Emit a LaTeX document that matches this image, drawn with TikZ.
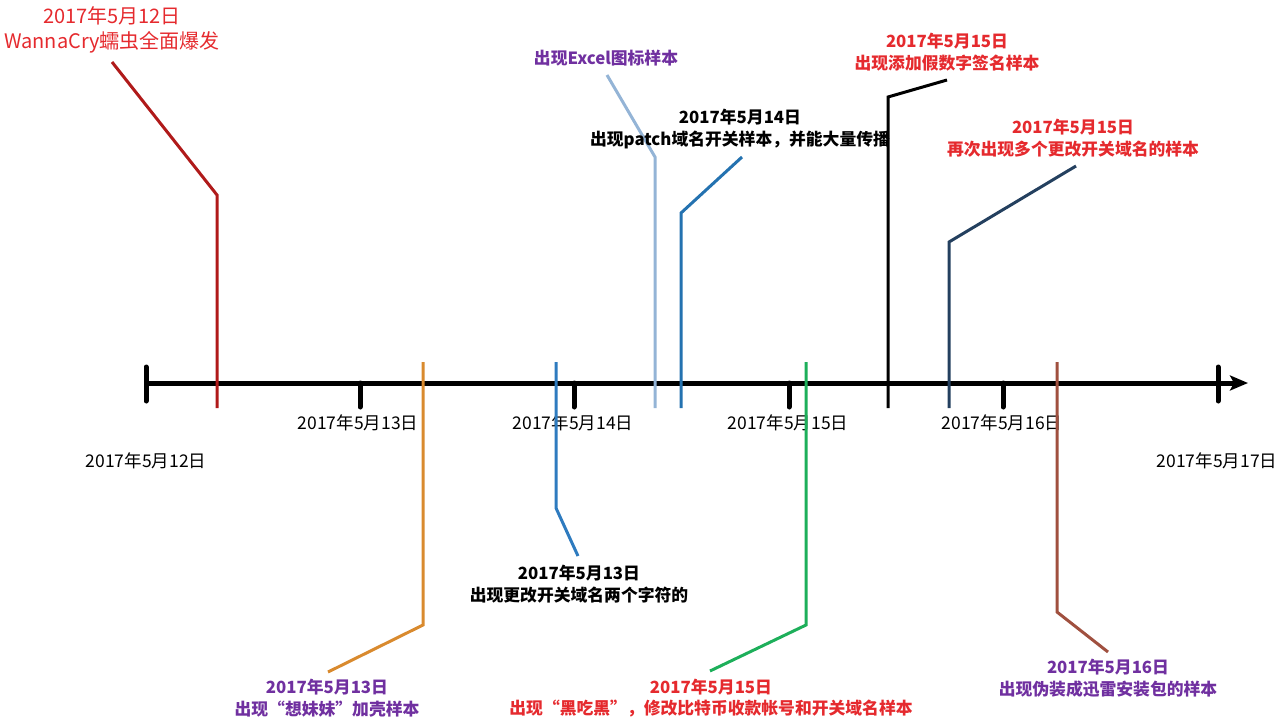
\documentclass[tikz,border=0pt]{standalone}
\usepackage{fontspec}
\setmainfont{Noto Sans CJK SC}
\usetikzlibrary{arrows.meta}
\definecolor{tred}{HTML}{E52A2E}
\definecolor{tpurple}{HTML}{7030A0}
\definecolor{lred}{HTML}{B01A1A}
\definecolor{lorange}{HTML}{D98A2E}
\definecolor{lblue}{HTML}{2E7BBF}
\definecolor{llight}{HTML}{94B4D6}
\definecolor{lblue2}{HTML}{2472B0}
\definecolor{lgreen}{HTML}{1DAF5A}
\definecolor{lnavy}{HTML}{24405F}
\definecolor{lbrown}{HTML}{A0503F}
\begin{document}
\begin{tikzpicture}[x=1pt,y=-1pt,
  ev/.style={line width=3pt},
  lbl/.style={font=\fontsize{16.8}{21.5}\selectfont\bfseries, align=center, inner sep=0pt},
  axl/.style={font=\fontsize{17.5}{19}\selectfont, inner sep=0pt},
  tk/.style={line width=5pt, line cap=round}]
\useasboundingbox (0,0) rectangle (1280,723);
% axis
\coordinate (A0) at (146,383);
\coordinate (A1) at (1248,383);
\draw[line width=5pt,-{Stealth[length=18pt,width=15pt,inset=4pt]}] (A0) -- (A1);
\coordinate (L0a) at (146,367); \coordinate (L0b) at (146,401);
\draw[tk] (L0a) -- (L0b);
\coordinate (R0a) at (1218,367); \coordinate (R0b) at (1218,401);
\draw[tk] (R0a) -- (R0b);
\foreach \x/\n in {360/13,574/14,789/15,1003/16}{
  \coordinate (T\n a) at (\x,383); \coordinate (T\n b) at (\x,407);
  \draw[tk] (T\n a) -- (T\n b);
}
% axis labels
\node[axl] (d12) at (146,461) {2017年5月12日};
\node[axl] (d13) at (358,423) {2017年5月13日};
\node[axl] (d14) at (573,423) {2017年5月14日};
\node[axl] (d15) at (788,423) {2017年5月15日};
\node[axl] (d16) at (1002,423) {2017年5月16日};
\node[axl] (d17) at (1217,461) {2017年5月17日};

% event 1 red
\coordinate (e1a) at (217,408); \coordinate (e1b) at (217,195); \coordinate (e1c) at (112,62);
\draw[ev,lred] (e1a) -- (e1b) -- (e1c);
\node[font=\fontsize{20}{25}\selectfont, text=tred, align=center, inner sep=0pt] (n1) at (112,30) {2017年5月12日\\WannaCry蠕虫全面爆发};

% event 2 orange
\coordinate (e2a) at (423,362); \coordinate (e2b) at (423,625); \coordinate (e2c) at (328,672);
\draw[ev,lorange] (e2a) -- (e2b) -- (e2c);
\node[lbl,text=tpurple] (n2) at (327,698) {2017年5月13日\\出现“想妹妹”加壳样本};

% event 3 blue
\coordinate (e3a) at (556,362); \coordinate (e3b) at (556,508); \coordinate (e3c) at (578,556);
\draw[ev,lblue] (e3a) -- (e3b) -- (e3c);
\node[lbl,text=black] (n3) at (579,584) {2017年5月13日\\出现更改开关域名两个字符的};

% event 4 light blue
\coordinate (e4a) at (655,408); \coordinate (e4b) at (655,157); \coordinate (e4c) at (607,75);
\draw[ev,llight] (e4a) -- (e4b) -- (e4c);
\node[lbl,text=tpurple] (n4) at (606,58) {出现Excel图标样本};

% event 5 blue
\coordinate (e5a) at (681,408); \coordinate (e5b) at (681,213); \coordinate (e5c) at (742,157);
\draw[ev,lblue2] (e5a) -- (e5b) -- (e5c);
\node[lbl,text=black] (n5) at (740,129) {2017年5月14日\\出现patch域名开关样本，并能大量传播};

% event 6 green
\coordinate (e6a) at (806,362); \coordinate (e6b) at (806,625); \coordinate (e6c) at (710,671);
\draw[ev,lgreen] (e6a) -- (e6b) -- (e6c);
\node[lbl,text=tred] (n6) at (711,698) {2017年5月15日\\出现“黑吃黑”，修改比特币收款帐号和开关域名样本};

% event 7 black
\coordinate (e7a) at (888,408); \coordinate (e7b) at (888,97); \coordinate (e7c) at (947,80);
\draw[ev,black] (e7a) -- (e7b) -- (e7c);
\node[lbl,text=tred] (n7) at (947,52) {2017年5月15日\\出现添加假数字签名样本};

% event 8 navy
\coordinate (e8a) at (949,408); \coordinate (e8b) at (949,242); \coordinate (e8c) at (1076,166);
\draw[ev,lnavy] (e8a) -- (e8b) -- (e8c);
\node[lbl,text=tred] (n8) at (1073,138) {2017年5月15日\\再次出现多个更改开关域名的样本};

% event 9 brown
\coordinate (e9a) at (1057,362); \coordinate (e9b) at (1057,612); \coordinate (e9c) at (1108,652);
\draw[ev,lbrown] (e9a) -- (e9b) -- (e9c);
\node[lbl,text=tpurple] (n9) at (1108,678) {2017年5月16日\\出现伪装成迅雷安装包的样本};
\end{tikzpicture}
\end{document}
